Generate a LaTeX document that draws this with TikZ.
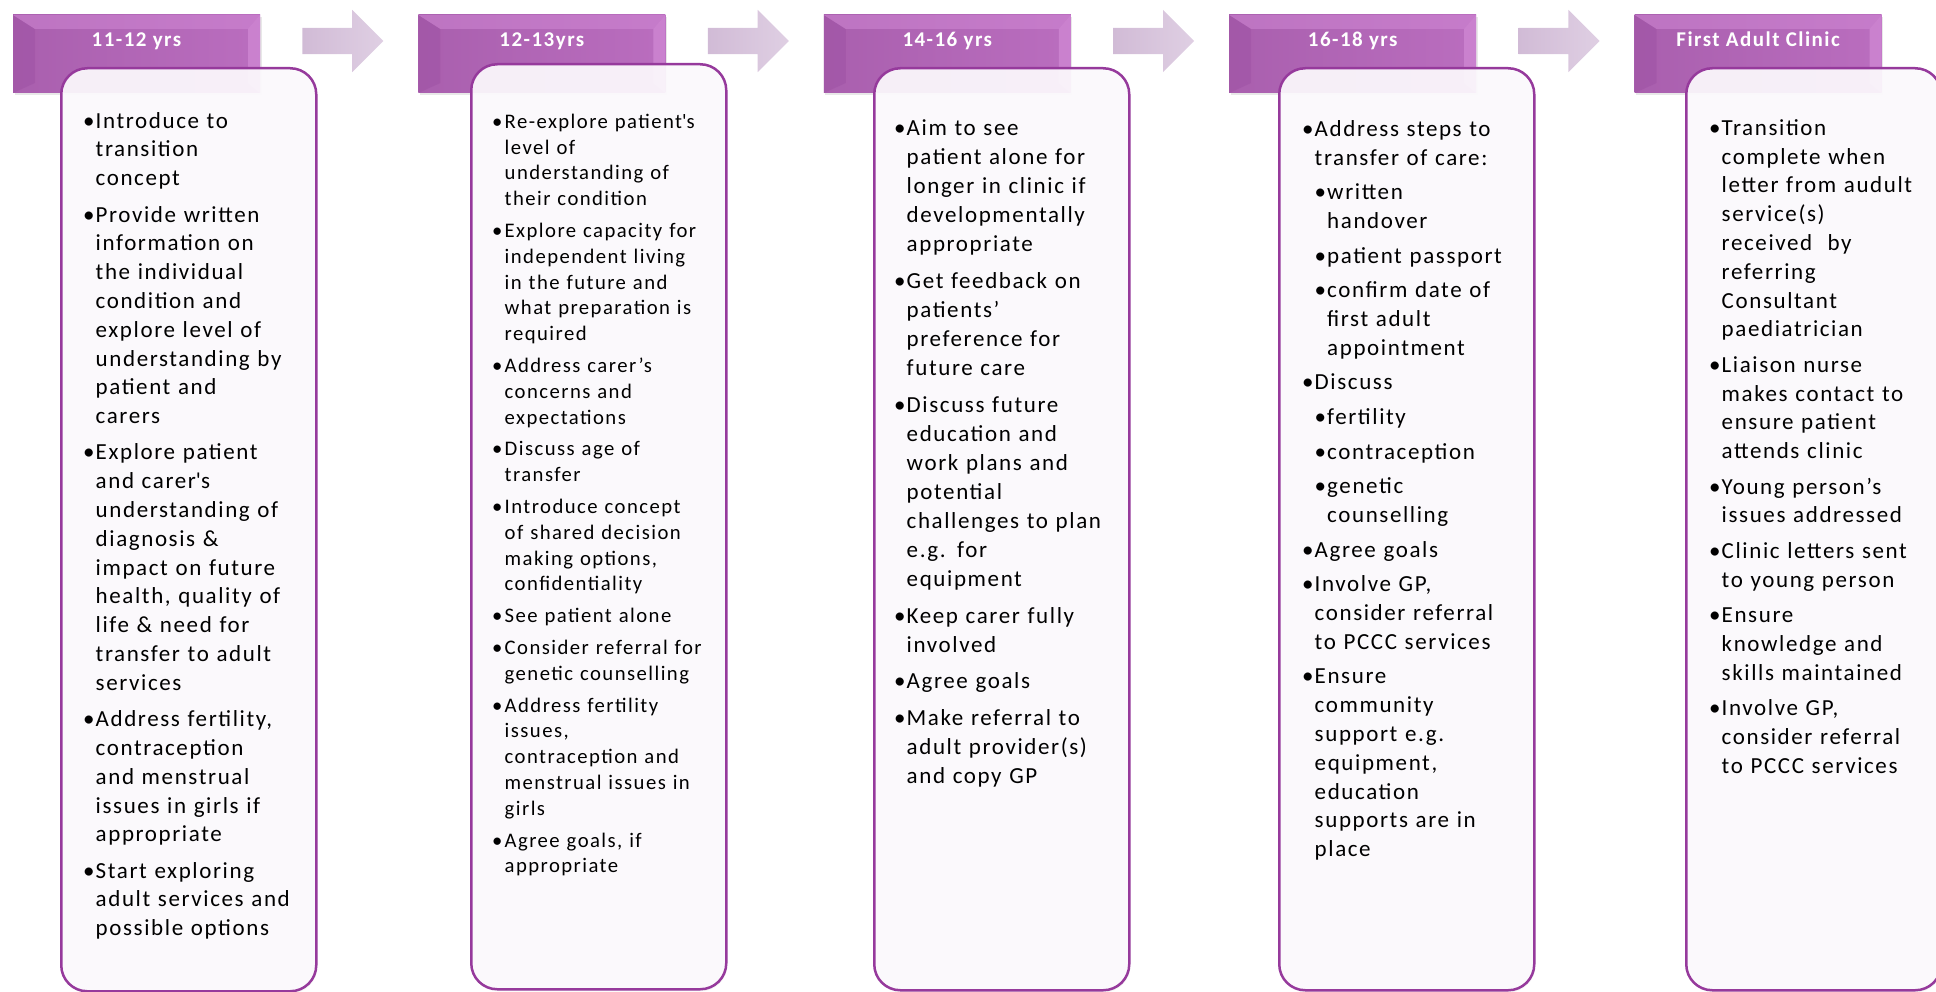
\documentclass[tikz,border=0pt]{standalone}
\usepackage{fontspec}
\setmainfont{Carlito}[LetterSpace=7]
\usetikzlibrary{shapes,positioning,shadows}

\definecolor{hdrdark}{RGB}{150,72,156}
\definecolor{hdrmid}{RGB}{178,100,183}
\definecolor{hdrlight}{RGB}{210,138,214}
\definecolor{arrowL}{RGB}{209,187,214}
\definecolor{arrowR}{RGB}{223,207,227}
\definecolor{boxline}{RGB}{150,58,156}
\definecolor{boxfill}{RGB}{253,251,254}

% bullet lists
\newlength{\bulw}\setlength{\bulw}{12.5pt}
\newlength{\itmgap}\setlength{\itmgap}{6.5pt}
\newcommand{\itm}[1]{\hangindent=\bulw\hangafter=1\noindent\makebox[\bulw][l]{\strut\textbullet}#1\strut\par\vspace{\itmgap}}
\newcommand{\subitm}[1]{\hangindent=2\bulw\hangafter=1\noindent\hspace*{\bulw}\makebox[\bulw][l]{\strut\textbullet}#1\strut\par\vspace{\itmgap}}
\newcommand{\colone}{\fontsize{23}{28.8}\selectfont\setlength{\itmgap}{7.5pt}}
\newcommand{\coltwo}{\fontsize{20.7}{25.8}\selectfont\setlength{\itmgap}{6pt}}
\newcommand{\colthree}{\fontsize{23}{29.1}\selectfont\setlength{\itmgap}{7.5pt}}
\newcommand{\colfour}{\fontsize{23}{28.8}\selectfont\setlength{\itmgap}{5.8pt}}
\newcommand{\colfive}{\fontsize{23}{28.8}\selectfont\setlength{\itmgap}{6.6pt}}

\tikzset{
  header/.style={minimum width=247, inner sep=0, text height=32pt, text depth=46pt,
    text=white, font=\bfseries\fontsize{21}{25}\selectfont,
    left color=hdrmid!95!black, right color=hdrmid!75!hdrlight,
    drop shadow={opacity=0.18, shadow xshift=1.5pt, shadow yshift=-2pt},
    path picture={
      \fill[hdrdark, opacity=0.3] (path picture bounding box.north west)
        -- ([shift={(22,14)}]path picture bounding box.north west)
        -- ([shift={(22,-10)}]path picture bounding box.south west)
        -- (path picture bounding box.south west) -- cycle;
      \fill[hdrlight, opacity=0.5] (path picture bounding box.north west)
        -- (path picture bounding box.north east)
        -- ([shift={(-12,14)}]path picture bounding box.north east)
        -- ([shift={(22,14)}]path picture bounding box.north west) -- cycle;
      \fill[hdrlight, opacity=0.7] (path picture bounding box.north east)
        -- (path picture bounding box.south east)
        -- ([shift={(-12,-10)}]path picture bounding box.south east)
        -- ([shift={(-12,14)}]path picture bounding box.north east) -- cycle;
    }},
  flow/.style={single arrow, minimum height=81, text height=13pt, text depth=13pt,
    single arrow head extend=18pt, inner sep=0, left color=arrowL, right color=arrowR},
  stagebox/.style={draw=boxline, line width=2.5pt, rounded corners=26pt,
    fill=boxfill, fill opacity=0.92, minimum width=255, inner sep=0, anchor=north west,
    drop shadow={opacity=0.08, shadow xshift=1pt, shadow yshift=-2pt}},
  stagetext/.style={anchor=north west, inner sep=0, text width=240pt, text=black}
}

\begin{document}
\begin{tikzpicture}[x=1pt, y=-1pt]
  \useasboundingbox (0,0) rectangle (1936,992);

  % stage headers
  \node (h1) [header] at (136.5,54) {11-12 yrs};
  \node (h2) [header, right=158pt of h1] {12-13yrs};
  \node (h3) [header, right=158pt of h2] {14-16 yrs};
  \node (h4) [header, right=158pt of h3] {16-18 yrs};
  \node (h5) [header, right=158pt of h4] {First Adult Clinic};

  % arrows between stages
  \node (a1) [flow, right=42pt of h1, yshift=13pt] {};
  \node (a2) [flow, right=42pt of h2, yshift=13pt] {};
  \node (a3) [flow, right=42pt of h3, yshift=13pt] {};
  \node (a4) [flow, right=42pt of h4, yshift=13pt] {};

  % content boxes
  \node (b1) [stagebox, minimum height=923] at (60,67) {};
  \node (b2) [stagebox, minimum height=925] at (470,63) {};
  \node (b3) [stagebox, minimum height=922] at (873,67) {};
  \node (b4) [stagebox, minimum height=922] at (1278,67) {};
  \node (b5) [stagebox, minimum height=922] at (1685,67) {};

  \node (t1) [stagetext, font=\colone] at (83,107.8) {%
    \itm{Introduce to\newline transition\newline concept}
    \itm{Provide written\newline information on\newline the individual\newline condition and\newline explore level of\newline understanding by\newline patient and\newline carers}
    \itm{Explore patient\newline and carer\textquotesingle s\newline understanding of\newline diagnosis \&\newline impact on future\newline health, quality of\newline life \& need for\newline transfer to adult\newline services}
    \itm{Address fertility,\newline contraception\newline and menstrual\newline issues in girls if\newline appropriate}
    \itm{Start exploring\newline adult services and\newline possible options}};

  \node (t2) [stagetext, font=\coltwo] at (492,110) {%
    \itm{Re-explore patient\textquotesingle s\newline level of\newline understanding of\newline their condition}
    \itm{Explore capacity for\newline independent living\newline in the future and\newline what preparation is\newline required}
    \itm{Address carer’s\newline concerns and\newline expectations}
    \itm{Discuss age of\newline transfer}
    \itm{Introduce concept\newline of shared decision\newline making options,\newline confidentiality}
    \itm{See patient alone}
    \itm{Consider referral for\newline genetic counselling}
    \itm{Address fertility\newline issues,\newline contraception and\newline menstrual issues in\newline girls}
    \itm{Agree goals, if\newline appropriate}};

  \node (t3) [stagetext, font=\colthree] at (894,114.6) {%
    \itm{Aim to see\newline patient alone for\newline longer in clinic if\newline developmentally\newline appropriate}
    \itm{Get feedback on\newline patients’\newline preference for\newline future care}
    \itm{Discuss future\newline education and\newline work plans and\newline potential\newline challenges to plan\newline e.g. for\newline equipment}
    \itm{Keep carer fully\newline involved}
    \itm{Agree goals}
    \itm{Make referral to\newline adult provider(s)\newline and copy GP}};

  \node (t4) [stagetext, font=\colfour] at (1302,116) {%
    \itm{Address steps to\newline transfer of care:}
    \subitm{written\newline handover}
    \subitm{patient passport}
    \subitm{confirm date of\newline first adult\newline appointment}
    \itm{Discuss}
    \subitm{fertility}
    \subitm{contraception}
    \subitm{genetic\newline counselling}
    \itm{Agree goals}
    \itm{Involve GP,\newline consider referral\newline to PCCC services}
    \itm{Ensure\newline community\newline support e.g.\newline equipment,\newline education\newline supports are in\newline place}};

  \node (t5) [stagetext, font=\colfive] at (1709,115) {%
    \itm{Transition\newline complete when\newline letter from audult\newline service(s)\newline received\ \ by\newline referring\newline Consultant\newline paediatrician}
    \itm{Liaison nurse\newline makes contact to\newline ensure patient\newline attends clinic}
    \itm{Young person’s\newline issues addressed}
    \itm{Clinic letters sent\newline to young person}
    \itm{Ensure\newline knowledge and\newline skills maintained}
    \itm{Involve GP,\newline consider referral\newline to PCCC services}};
\end{tikzpicture}
\end{document}
